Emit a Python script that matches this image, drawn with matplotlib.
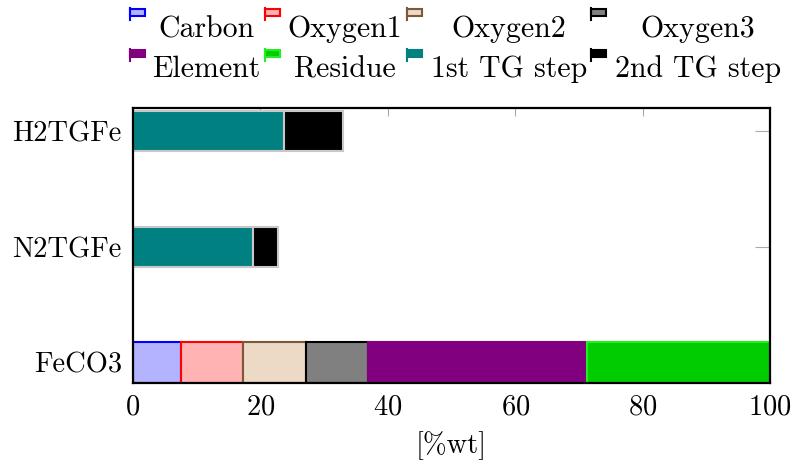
import numpy as np
import matplotlib
matplotlib.use("Agg")
import matplotlib.pyplot as plt
from matplotlib.patches import Rectangle
from matplotlib.lines import Line2D

plt.rcParams['font.family'] = ['cmr10', 'DejaVu Serif']
plt.rcParams['axes.formatter.use_mathtext'] = True
plt.rcParams['font.size'] = 20.5

# data
samples = ['FeCO3', 'N2TGFe', 'H2TGFe']
series = ['Carbon', 'Oxygen1', 'Oxygen2', 'Oxygen3', 'Element', 'Residue',
          '1st TG step', '2nd TG step']
carbon = [7.5, 0, 0]
oxygen1 = [9.8, 0, 0]
oxygen2 = [9.8, 0, 0]
oxygen3 = [9.8, 0, 0]
element = [34.3, 0, 0]
residue = [28.8, 0, 0]
tg_step1 = [0, 18.8, 23.7]
tg_step2 = [0, 4.0, 9.2]
values = [carbon, oxygen1, oxygen2, oxygen3, element, residue, tg_step1, tg_step2]

# styles (face, edge)
faces = ['#b3b3ff', '#ffb3b3', '#ecd9c6', '#808080', '#800080', '#00cc00', '#008080', '#000000']
edges = ['#0000ff', '#ff0000', '#7a5a38', '#000000', '#800080', '#22ee22', '#c8c8c8', '#c8c8c8']

W, H = 796, 467
fig = plt.figure(figsize=(W / 100, H / 100), dpi=100)
ax = fig.add_axes([133 / W, 1 - 383 / H, 637 / W, 275 / H])

y = np.arange(len(samples))
left = np.zeros(len(samples))
for vals, fc, ec in zip(values, faces, edges):
    vals = np.array(vals, dtype=float)
    mask = vals > 0
    ax.barh(y[mask], vals[mask], left=left[mask], height=0.35,
            color=fc, edgecolor=ec, linewidth=1.5, zorder=2)
    left += vals

ax.set_xlim(0, 100)
ax.set_ylim(-0.175, 2.2)
ax.set_xticks(np.arange(0, 101, 20))
ax.set_yticks(y)
ax.set_yticklabels(samples)
ax.tick_params(direction='in', length=6, width=0.8, color='#aaaaaa',
               top=True, right=True, pad=8)
ax.tick_params(axis='y', length=11)
for s in ax.spines.values():
    s.set_linewidth(1.6)
    s.set_zorder(3)
ax.set_xlabel('[%wt]', labelpad=8)

# legend, pgfplots style with 4 columns
handle_x = [130, 265, 407, 591]
text_cx = [206, 345, 509, 698]
handle_top = [8, 49]
baseline = [37, 77]
for i, (name, fc, ec) in enumerate(zip(series, faces, edges)):
    r, c = divmod(i, 4)
    x0 = handle_x[c]
    t0 = handle_top[r]
    if ec == '#c8c8c8':
        ec = fc
    fig.patches.append(Rectangle((x0 / W, 1 - (t0 + 8) / H), 15 / W, 7 / H,
                                 transform=fig.transFigure, facecolor=fc,
                                 edgecolor=ec, linewidth=1.5))
    fig.lines.append(Line2D([x0 / W, x0 / W], [1 - t0 / H, 1 - (t0 + 12) / H],
                            transform=fig.transFigure, color=ec, linewidth=1.5))
    fig.text(text_cx[c] / W, 1 - baseline[r] / H, name, ha='center', va='baseline',
             fontsize=21.5)

fig.savefig('out.png', dpi=100)
